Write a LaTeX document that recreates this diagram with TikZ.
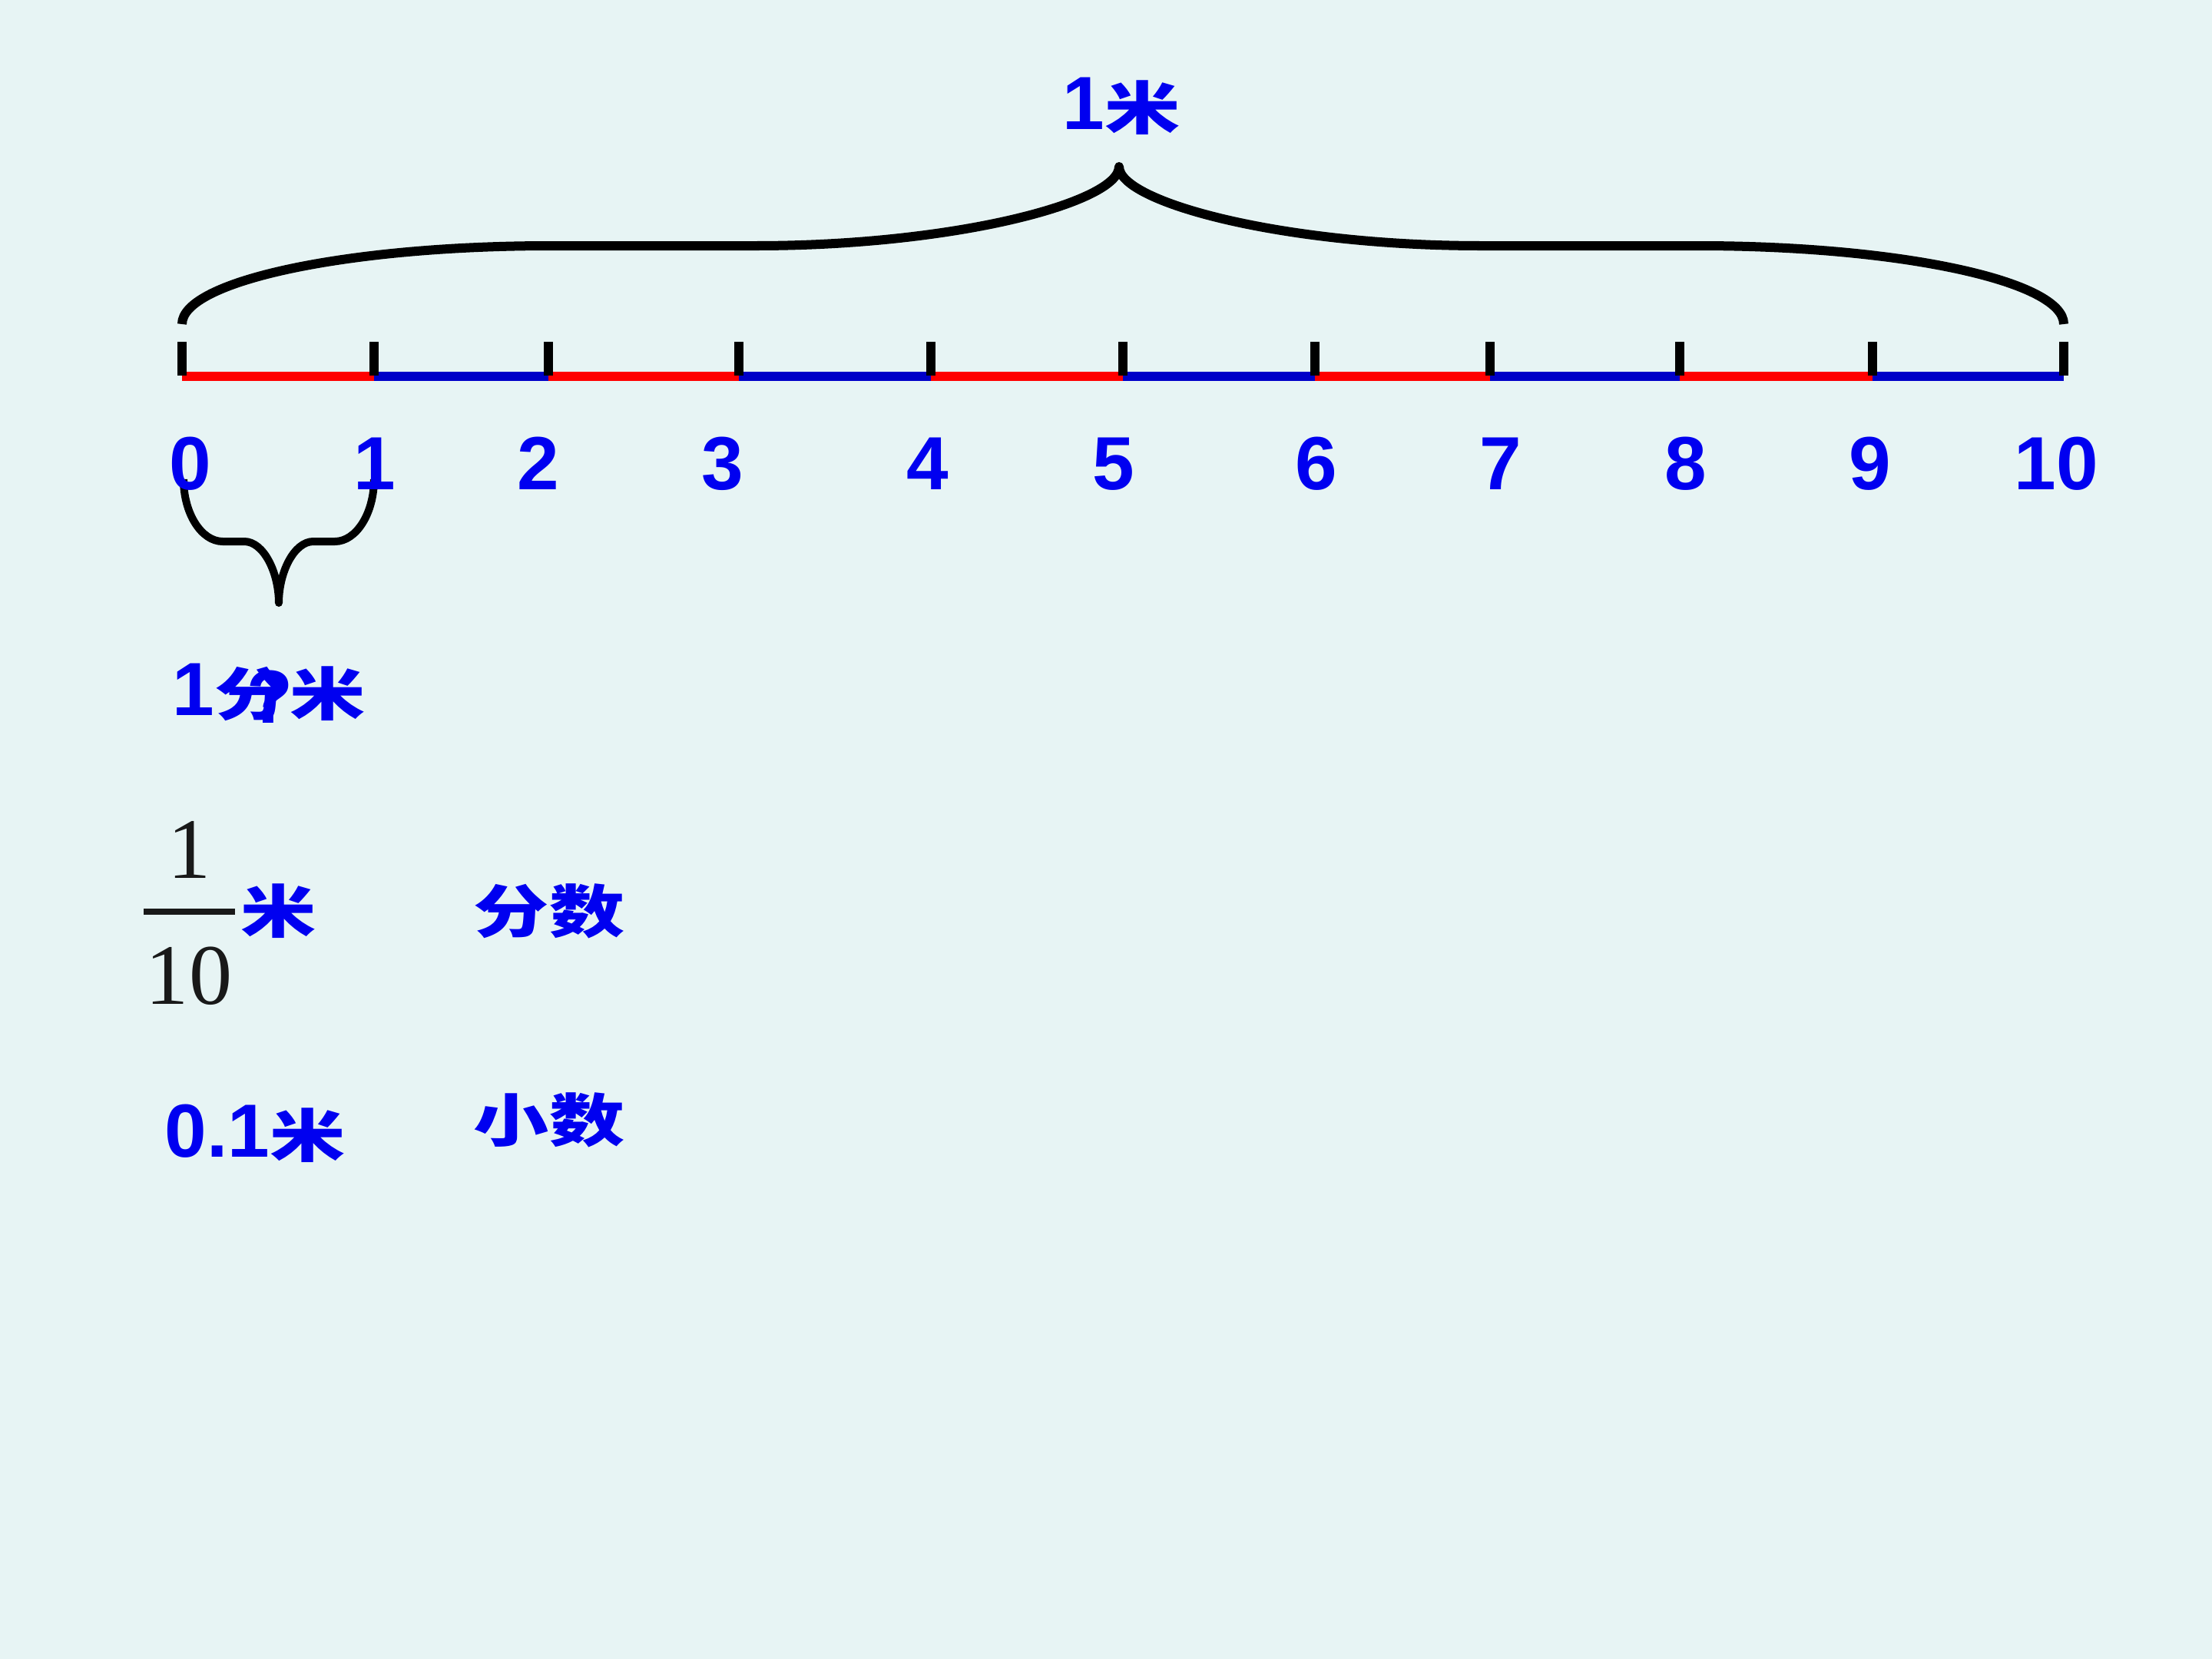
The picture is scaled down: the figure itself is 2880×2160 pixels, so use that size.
\documentclass[tikz,border=0pt]{standalone}
\usepackage{fontspec}
\usepackage{graphicx}
\setmainfont{Liberation Sans}
\newfontfamily\cjk{Noto Sans CJK SC}
\newfontfamily\fracfont{Liberation Serif}
\definecolor{bgc}{RGB}{231,244,244}
\definecolor{txtblue}{RGB}{0,0,240}
\definecolor{segred}{RGB}{255,0,0}
\definecolor{segblue}{RGB}{0,0,200}
\definecolor{fracink}{RGB}{25,25,25}
\newcommand{\cjkt}[1]{\scalebox{1}[0.76]{\cjk\bfseries #1}}
\tikzset{
  lbl/.style={inner sep=0pt, text=txtblue, font=\fontsize{27.9}{30}\selectfont\bfseries},
  cjklbl/.style={inner sep=0pt, text=txtblue, font=\fontsize{27.9}{30}\selectfont\cjk\bfseries},
  fraclbl/.style={inner sep=0pt, text=fracink, font=\fontsize{31.9}{34}\selectfont\fracfont},
  bracestyle/.style={line width=0.12cm, line join=round, draw=black},
  smallbrace/.style={line width=0.1cm, line join=round, draw=black},
  segline/.style={line width=0.12cm},
  tickmark/.style={line width=0.12cm, draw=black}
}
\begin{document}
\begin{tikzpicture}[x=0.01cm, y=-0.01cm]
\fill[bgc] (0,0) rectangle (2880,2160);
\useasboundingbox (0,0) rectangle (2880,2160);

% tick positions
\foreach \n/\x in {0/237,1/487,2/714,3/962,4/1212,5/1462,6/1712,7/1940,8/2187,9/2438,10/2687}
  \coordinate (t\n) at (\x,490);

% coloured segments
\foreach \a/\b/\c in {0/1/segred,1/2/segblue,2/3/segred,3/4/segblue,4/5/segred,5/6/segblue,6/7/segred,7/8/segblue,8/9/segred,9/10/segblue}
  \draw[segline, draw=\c] (t\a) -- (t\b);

% ticks
\foreach \n in {0,...,10}
  \draw[tickmark] (t\n) ++(0,-1) -- ++(0,-44);

% big brace
\draw[bracestyle] (237,422) .. controls (237,366) and (452,320) .. (717,320) -- (983,320)
  .. controls (1245,320) and (1457,263) .. (1457,217)
  .. controls (1457,263) and (1669,320) .. (1929,320) -- (2211,320)
  .. controls (2474,320) and (2687,366) .. (2687,422);
\node[lbl, anchor=base] (onem) at (1460,168) {1\cjkt{米}};

% small brace
\draw[smallbrace] (239,624) .. controls (239,668) and (262,705) .. (290,705) -- (318,705)
  .. controls (343,705) and (363,745) .. (363,785)
  .. controls (363,745) and (383,705) .. (408,705) -- (436,705)
  .. controls (464,705) and (487,668) .. (487,624);

% number labels
\foreach \n/\x in {0/248,1/488,2/701,3/941,4/1208,5/1450,6/1714,7/1954,8/2195,9/2435,10/2677}
  \node[lbl, anchor=base] (n\n) at (\x,637) {\n};

% 1 dm with overlapping question mark
\node[lbl, anchor=base west] (onedm) at (224,931) {1\cjkt{分米}};
\node[lbl, anchor=base] (qmark) at (351,941) {?};

% fraction
\node[fraclbl, anchor=base] (fnum) at (247,1143) {1};
\draw[line width=0.08cm, draw=fracink] (187,1187) -- (306,1187);
\node[fraclbl, anchor=base] (fden) at (246,1307) {10};
\node[lbl] (fmi) at (363,1186) {\cjkt{米}};
\node[lbl] (fenshu) at (715,1186) {\cjkt{分数}};

% decimal
\node[lbl, anchor=base west] (dec) at (214,1506) {0.1\cjkt{米}};
\node[lbl] (xiaoshu) at (715,1458) {\cjkt{小数}};
\end{tikzpicture}
\end{document}
